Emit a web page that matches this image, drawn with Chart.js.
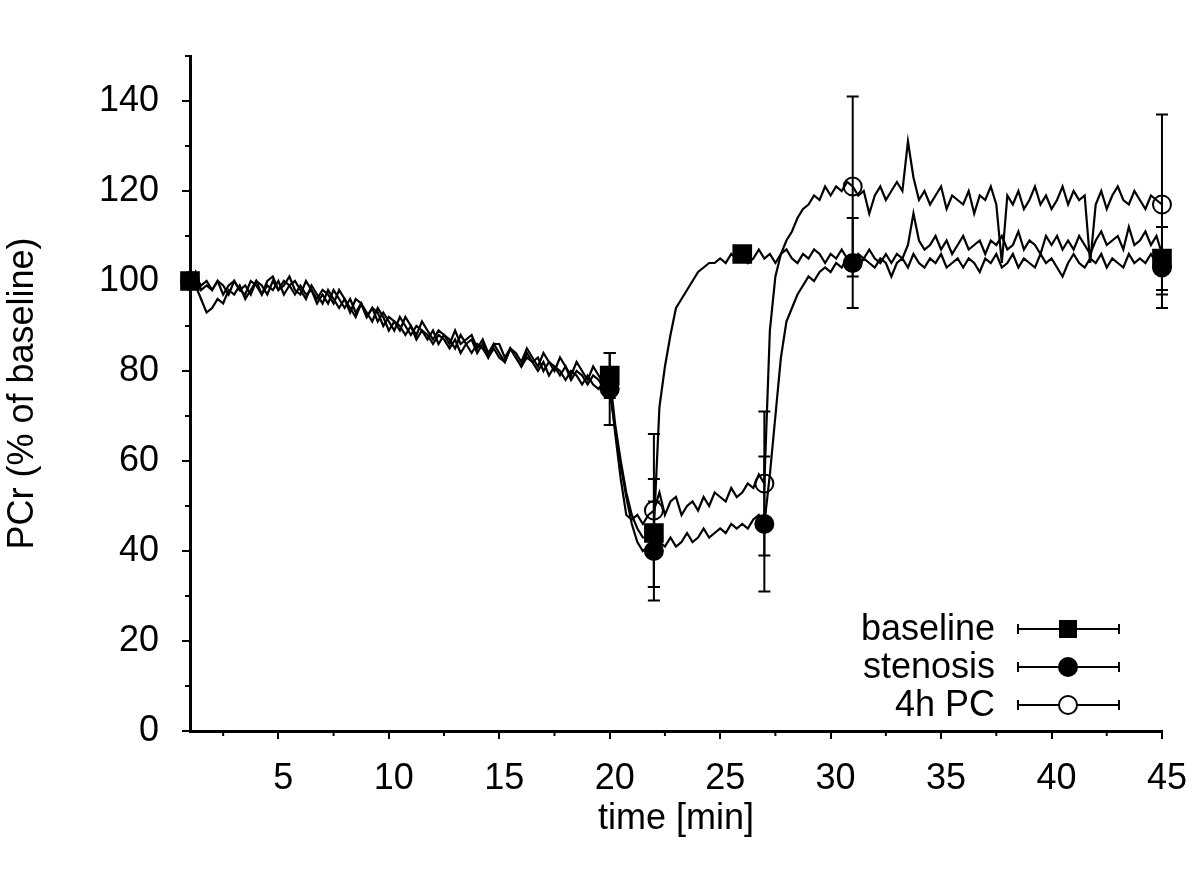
<!DOCTYPE html>
<html>
<head>
<meta charset="utf-8">
<script src="https://cdn.jsdelivr.net/npm/chart.js@4.4.1/dist/chart.umd.min.js"></script>
<style>
  html, body { margin: 0; padding: 0; background: #fff; }
  #wrap { width: 1200px; height: 879px; }
</style>
</head>
<body>
<div id="wrap"><canvas id="pcr"></canvas></div>
<script>
// sample times of the PCr traces [min]
const time = [
  1, 1.25, 1.5, 1.75,   2, 2.25, 2.5, 2.75,   3, 3.25, 3.5, 3.75,   4, 4.25, 4.5, 4.75,
  5, 5.25, 5.5, 5.75,   6, 6.25, 6.5, 6.75,   7, 7.25, 7.5, 7.75,   8, 8.25, 8.5, 8.75,
  9, 9.25, 9.5, 9.75,   10, 10.25, 10.5, 10.75, 11, 11.25, 11.5, 11.75, 12, 12.25, 12.5, 12.75,
  13, 13.25, 13.5, 13.75, 14, 14.25, 14.5, 14.75, 15, 15.25, 15.5, 15.75, 16, 16.25, 16.5, 16.75,
  17, 17.25, 17.5, 17.75, 18, 18.25, 18.5, 18.75, 19, 19.25, 19.5, 19.75, 20, 20.25, 20.5, 20.75,
  21, 21.25, 21.5, 21.75, 22, 22.25, 22.5, 22.75, 23, 23.25, 23.5, 23.75, 24, 24.25, 24.5, 24.75,
  25, 25.25, 25.5, 25.75, 26, 26.25, 26.5, 26.75, 27, 27.25, 27.5, 27.75, 28, 28.25, 28.5, 28.75,
  29, 29.25, 29.5, 29.75, 30, 30.25, 30.5, 30.75, 31, 31.25, 31.5, 31.75, 32, 32.25, 32.5, 32.75,
  33, 33.25, 33.5, 33.75, 34, 34.25, 34.5, 34.75, 35, 35.25, 35.5, 35.75, 36, 36.25, 36.5, 36.75,
  37, 37.25, 37.5, 37.75, 38, 38.25, 38.5, 38.75, 39, 39.25, 39.5, 39.75, 40, 40.25, 40.5, 40.75,
  41, 41.25, 41.5, 41.75, 42, 42.25, 42.5, 42.75, 43, 43.25, 43.5, 43.75, 44, 44.25, 44.5, 44.75,
  45
];

// PCr traces (% of baseline), 4 samples per minute
const baselineTrace = [
  100, 102, 98, 99,   98, 100, 99, 97,  100, 98, 97, 100, 99, 97, 100, 101,
  98, 99, 101, 98,    97, 100, 98, 96,  98, 97, 95, 98,   96, 93, 96, 95,
  92, 94, 93, 90,     92, 91, 89, 92,   90, 88, 91, 89,   87, 89, 88, 86,
  89, 86, 87, 88,     85, 87, 84, 86,   86, 83, 85, 84,   82, 85, 83, 81,
  84, 82, 80, 83,     81, 79, 82, 80,   78, 81, 79, 77,   79, 68, 60, 53,
  48, 45, 43, 43,     45, 72, 81, 88,   94, 96, 98, 100,  102, 103, 104, 104,
  105, 104, 106, 105, 106, 104, 105, 107, 105, 106, 104, 106, 107, 105, 104, 106,
  105, 107, 106, 104, 106, 105, 107, 105, 104, 106, 105, 107, 105, 104, 106, 104,
  106, 105, 108, 115, 109, 107, 108, 110, 107, 109, 106, 108, 110, 107, 108, 109,
  106, 109, 108, 110, 107, 108, 111, 107, 109, 108, 106, 110, 108, 110, 107, 109,
  107, 110, 108, 106, 109, 111, 108, 109, 110, 107, 112, 108, 109, 111, 108, 110,
  106
];
const stenosisTrace = [
  100, 99, 96, 93,    94, 96, 95, 98,   97, 99, 96, 98,   100, 97, 99, 98,
  100, 97, 99, 100,   98, 96, 99, 97,   95, 98, 96, 94,   96, 94, 92, 95,
  93, 91, 94, 92,     89, 91, 90, 88,   90, 87, 89, 88,   86, 88, 87, 85,
  87, 84, 86, 87,     84, 86, 83, 85,   83, 82, 85, 83,   81, 83, 82, 80,
  82, 79, 81, 80,     78, 80, 79, 77,   79, 77, 76, 78,   76, 67, 59, 52,
  46, 42, 40, 41,     40, 42, 41, 43,   41, 42, 44, 42,   43, 45, 43, 44,
  45, 44, 46, 45,     46, 45, 47, 48,   46, 57, 70, 83,   91, 94, 97, 99,
  101, 100, 102, 103, 102, 104, 103, 105, 104, 103, 105, 104, 103, 105, 104, 101,
  104, 105, 103, 106, 104, 103, 105, 104, 106, 103, 104, 105, 103, 105, 104, 102,
  105, 104, 106, 103, 104, 106, 103, 105, 104, 103, 106, 104, 105, 103, 101, 104,
  106, 104, 103, 105, 104, 106, 103, 105, 104, 103, 106, 104, 105, 104, 106, 104,
  103
];
const pcTrace = [
  100, 101, 99, 100,  98, 100, 97, 99,  100, 98, 99, 97,  100, 99, 97, 100,
  98, 100, 99, 97,    99, 97, 98, 95,   97, 95, 98, 96,   94, 96, 93, 95,
  92, 94, 91, 93,     91, 89, 92, 90,   88, 90, 89, 87,   89, 86, 88, 87,
  85, 88, 86, 84,     86, 85, 83, 86,   84, 82, 85, 83,   81, 84, 82, 83,
  80, 82, 81, 79,     81, 78, 80, 79,   77, 79, 78, 76,   77, 66, 56, 48,
  47, 48, 46, 48,     49, 53, 48, 51,   52, 48, 50, 51,   49, 52, 50, 53,
  52, 51, 54, 52,     53, 55, 54, 57,   55, 89, 101, 106, 109, 111, 114, 116,
  117, 119, 118, 121, 119, 121, 120, 122, 121, 119, 120, 115, 119, 121, 118, 120,
  122, 120, 131, 123, 118, 120, 117, 119, 121, 116, 119, 118, 117, 120, 115, 119,
  118, 121, 117, 104, 119, 117, 120, 116, 118, 121, 117, 119, 116, 118, 121, 117,
  120, 118, 119, 104, 117, 120, 116, 119, 121, 118, 117, 120, 118, 116, 119, 118,
  117
];

// group means with error bars
const baseTimes = [1, 20, 22, 26, 45];
const baseMean  = [100, 79, 44, 106, 105];
const baseErr   = [0, 5, 12, 0, 7];
const stenTimes = [1, 20, 22, 27, 31, 45];
const stenMean  = [100, 76, 40, 46, 104, 103];
const stenErr   = [0, 8, 11, 15, 10, 9];
const pcTimes   = [22, 27, 31, 45];
const pcMean    = [49, 55, 121, 117];
const pcErr     = [17, 16, 20, 20];

const legendNames = ["baseline", "stenosis", "4h PC"];

const xTicks = [5, 10, 15, 20, 25, 30, 35, 40, 45];
const xMinor = [2.5, 7.5, 12.5, 17.5, 22.5, 27.5, 32.5, 37.5, 42.5];
const yTicks = [0, 20, 40, 60, 80, 100, 120, 140];
const yMinor = [10, 30, 50, 70, 90, 110, 130, 150];

const FONT = "'Liberation Sans', Arial, Helvetica, sans-serif";

function toPoints(xs, ys) {
  return xs.map((x, i) => ({ x: x, y: ys[i] }));
}

const markerStyles = [
  { pointStyle: "rect", radius: 12.5, fill: "#000" },
  { pointStyle: "circle", radius: 9, fill: "#000" },
  { pointStyle: "circle", radius: 9, fill: "rgba(0,0,0,0)" }
];

function traceSet(vals) {
  return {
    type: "line",
    data: toPoints(time, vals),
    borderColor: "#000",
    borderWidth: 2.2,
    pointRadius: 0,
    tension: 0,
    fill: false
  };
}
function markerSet(xs, ys, st) {
  return {
    type: "scatter",
    data: toPoints(xs, ys),
    showLine: false,
    pointStyle: st.pointStyle,
    pointRadius: st.radius,
    pointBackgroundColor: st.fill,
    pointBorderColor: "#000",
    pointBorderWidth: 2,
    clip: false
  };
}

// error bars and minor ticks
const extrasPlugin = {
  id: "extras",
  afterDatasetsDraw(chart) {
    const ctx = chart.ctx;
    const xs = chart.scales.x, ys = chart.scales.y;
    const groups = [
      [baseTimes, baseMean, baseErr],
      [stenTimes, stenMean, stenErr],
      [pcTimes, pcMean, pcErr]
    ];
    ctx.save();
    ctx.strokeStyle = "#000";
    ctx.lineWidth = 2;
    groups.forEach(g => {
      g[0].forEach((t, i) => {
        if (!g[2][i]) return;
        const px = xs.getPixelForValue(t);
        const top = ys.getPixelForValue(g[1][i] + g[2][i]);
        const bot = ys.getPixelForValue(g[1][i] - g[2][i]);
        ctx.beginPath();
        ctx.moveTo(px, top); ctx.lineTo(px, bot);
        ctx.moveTo(px - 6, top); ctx.lineTo(px + 6, top);
        ctx.moveTo(px - 6, bot); ctx.lineTo(px + 6, bot);
        ctx.stroke();
      });
    });
    // minor ticks
    const area = chart.chartArea;
    ctx.beginPath();
    xMinor.forEach(v => {
      const px = xs.getPixelForValue(v);
      ctx.moveTo(px, area.bottom); ctx.lineTo(px, area.bottom + 5);
    });
    yMinor.forEach(v => {
      const py = ys.getPixelForValue(v);
      ctx.moveTo(area.left, py); ctx.lineTo(area.left - 5, py);
    });
    ctx.stroke();
    ctx.restore();
  },
  afterDraw(chart) {
    // legend, bottom right
    const ctx = chart.ctx;
    const rows = [629, 667, 705];
    ctx.save();
    ctx.font = "36px " + FONT;
    ctx.fillStyle = "#000";
    ctx.strokeStyle = "#000";
    ctx.textAlign = "right";
    ctx.textBaseline = "middle";
    legendNames.forEach((name, i) => {
      const y = rows[i];
      ctx.fillText(name, 995, y + 1);
      ctx.lineWidth = 2;
      ctx.beginPath();
      ctx.moveTo(1018, y); ctx.lineTo(1119, y);
      ctx.moveTo(1018, y - 5); ctx.lineTo(1018, y + 5);
      ctx.moveTo(1119, y - 5); ctx.lineTo(1119, y + 5);
      ctx.stroke();
      const st = markerStyles[i];
      ctx.beginPath();
      if (st.pointStyle === "rect") {
        ctx.rect(1068 - 9, y - 9, 18, 18);
        ctx.fill();
      } else {
        ctx.arc(1068, y, st.radius, 0, Math.PI * 2);
        if (st.fill === "#000") ctx.fill();
        else { ctx.fillStyle = "#fff"; ctx.fill(); ctx.fillStyle = "#000"; }
        ctx.stroke();
      }
    });
    ctx.restore();
  }
};

new Chart(document.getElementById("pcr"), {
  type: "line",
  data: {
    datasets: [
      traceSet(baselineTrace),
      traceSet(stenosisTrace),
      traceSet(pcTrace),
      markerSet(baseTimes, baseMean, markerStyles[0]),
      markerSet(stenTimes, stenMean, markerStyles[1]),
      markerSet(pcTimes, pcMean, markerStyles[2])
    ]
  },
  options: {
    responsive: true,
    maintainAspectRatio: false,
    animation: false,
    layout: { padding: { top: 56, right: 37, left: 0, bottom: 0 } },
    plugins: { legend: { display: false }, tooltip: { enabled: false } },
    scales: {
      x: {
        type: "linear",
        min: 1,
        max: 45,
        afterBuildTicks: s => { s.ticks = xTicks.map(v => ({ value: v })); },
        afterFit: s => { s.height = 148; },
        border: { display: true, color: "#000", width: 3 },
        grid: { drawOnChartArea: false, color: "#000", lineWidth: 2, tickLength: 8 },
        ticks: { color: "#000", font: { size: 36, family: FONT }, padding: 18, labelOffset: 5, maxRotation: 0 },
        title: { display: true, text: "time [min]", color: "#000",
                 font: { size: 36, family: FONT, lineHeight: 1 }, padding: { top: 0, bottom: 42 } }
      },
      y: {
        min: 0,
        max: 150,
        afterBuildTicks: s => { s.ticks = yTicks.map(v => ({ value: v })); },
        afterFit: s => { s.width = 190; },
        border: { display: true, color: "#000", width: 3 },
        grid: { drawOnChartArea: false, color: "#000", lineWidth: 2, tickLength: 8 },
        ticks: { color: "#000", font: { size: 36, family: FONT }, padding: 23 },
        title: { display: true, text: "PCr (% of baseline)", color: "#000",
                 font: { size: 36, family: FONT, lineHeight: 1 }, padding: { top: 5, bottom: 0 } }
      }
    }
  },
  plugins: [extrasPlugin]
});
</script>
</body>
</html>
